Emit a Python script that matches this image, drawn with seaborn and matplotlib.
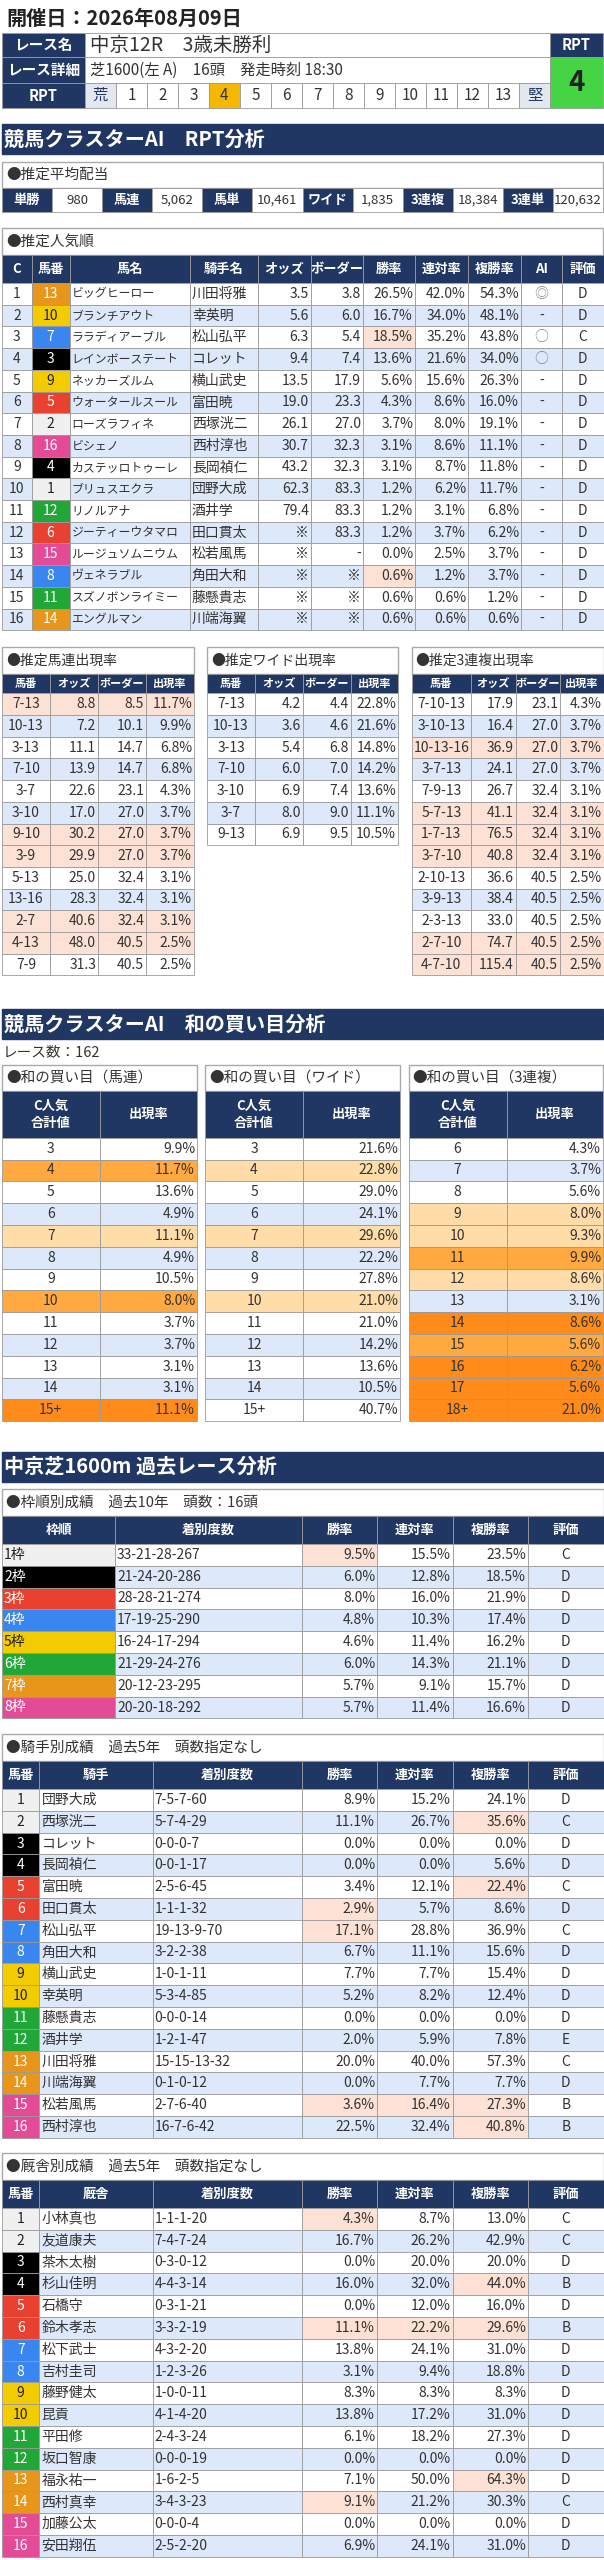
import matplotlib
matplotlib.use("Agg")
import matplotlib.pyplot as plt
import seaborn as sns
from matplotlib.patches import Rectangle

sns.set_theme(style="white")
plt.rcParams['font.family'] = ['Noto Sans CJK JP', 'DejaVu Sans']

# ---------------- data ----------------
race_date = "開催日：2026年08月09日"
race_name = "中京12R　3歳未勝利"
race_detail = "芝1600(左 A)　16頭　発走時刻 18:30"
rpt_scale = ["荒", "1", "2", "3", "4", "5", "6", "7", "8", "9", "10", "11", "12", "13", "堅"]
rpt_value = 4

payout_labels = ["単勝", "馬連", "馬単", "ワイド", "3連複", "3連単"]
payout_values = ["980", "5,062", "10,461", "1,835", "18,384", "120,632"]

pop_c = list(range(1, 17))
pop_num = [13, 10, 7, 3, 9, 5, 2, 16, 4, 1, 12, 6, 15, 8, 11, 14]
pop_name = ["ビッグヒーロー", "ブランチアウト", "ララディアーブル", "レインボーステート", "ネッカーズルム",
            "ウォータールスール", "ローズラフィネ", "ビシェノ", "カステッロトゥーレ", "ブリュスエクラ",
            "リノルアナ", "ジーティーウタマロ", "ルージュソムニウム", "ヴェネラブル", "スズノボンライミー", "エングルマン"]
pop_jockey = ["川田将雅", "幸英明", "松山弘平", "コレット", "横山武史", "富田暁", "西塚洸二", "西村淳也",
              "長岡禎仁", "団野大成", "酒井学", "田口貫太", "松若風馬", "角田大和", "藤懸貴志", "川端海翼"]
pop_odds = ["3.5", "5.6", "6.3", "9.4", "13.5", "19.0", "26.1", "30.7", "43.2", "62.3", "79.4", "※", "※", "※", "※", "※"]
pop_border = ["3.8", "6.0", "5.4", "7.4", "17.9", "23.3", "27.0", "32.3", "32.3", "83.3", "83.3", "83.3", "-", "※", "※", "※"]
pop_win = [26.5, 16.7, 18.5, 13.6, 5.6, 4.3, 3.7, 3.1, 3.1, 1.2, 1.2, 1.2, 0.0, 0.6, 0.6, 0.6]
pop_ren = [42.0, 34.0, 35.2, 21.6, 15.6, 8.6, 8.0, 8.6, 8.7, 6.2, 3.1, 3.7, 2.5, 1.2, 0.6, 0.6]
pop_fuku = [54.3, 48.1, 43.8, 34.0, 26.3, 16.0, 19.1, 11.1, 11.8, 11.7, 6.8, 6.2, 3.7, 3.7, 1.2, 0.6]
pop_ai = ["◎", "-", "○", "○"] + ["-"] * 12
pop_eval = ["D", "D", "C"] + ["D"] * 13

uren_kumi = ["7-13", "10-13", "3-13", "7-10", "3-7", "3-10", "9-10", "3-9", "5-13", "13-16", "2-7", "4-13", "7-9"]
uren_odds = [8.8, 7.2, 11.1, 13.9, 22.6, 17.0, 30.2, 29.9, 25.0, 28.3, 40.6, 48.0, 31.3]
uren_border = [8.5, 10.1, 14.7, 14.7, 23.1, 27.0, 27.0, 27.0, 32.4, 32.4, 32.4, 40.5, 40.5]
uren_rate = [11.7, 9.9, 6.8, 6.8, 4.3, 3.7, 3.7, 3.7, 3.1, 3.1, 3.1, 2.5, 2.5]
uren_hl = [1, 0, 0, 0, 0, 0, 1, 1, 0, 0, 1, 1, 0]

wide_kumi = ["7-13", "10-13", "3-13", "7-10", "3-10", "3-7", "9-13"]
wide_odds = [4.2, 3.6, 5.4, 6.0, 6.9, 8.0, 6.9]
wide_border = [4.4, 4.6, 6.8, 7.0, 7.4, 9.0, 9.5]
wide_rate = [22.8, 21.6, 14.8, 14.2, 13.6, 11.1, 10.5]
wide_hl = [0] * 7

trio_kumi = ["7-10-13", "3-10-13", "10-13-16", "3-7-13", "7-9-13", "5-7-13", "1-7-13", "3-7-10",
             "2-10-13", "3-9-13", "2-3-13", "2-7-10", "4-7-10"]
trio_odds = [17.9, 16.4, 36.9, 24.1, 26.7, 41.1, 76.5, 40.8, 36.6, 38.4, 33.0, 74.7, 115.4]
trio_border = [23.1, 27.0, 27.0, 27.0, 32.4, 32.4, 32.4, 32.4, 40.5, 40.5, 40.5, 40.5, 40.5]
trio_rate = [4.3, 3.7, 3.7, 3.7, 3.1, 3.1, 3.1, 3.1, 2.5, 2.5, 2.5, 2.5, 2.5]
trio_hl = [0, 0, 1, 0, 0, 1, 1, 1, 0, 0, 0, 1, 1]

num_races = 162
wa_uren_sum = ["3", "4", "5", "6", "7", "8", "9", "10", "11", "12", "13", "14", "15+"]
wa_uren_rate = [9.9, 11.7, 13.6, 4.9, 11.1, 4.9, 10.5, 8.0, 3.7, 3.7, 3.1, 3.1, 11.1]
wa_uren_lvl = [0, 2, 0, 0, 1, 0, 0, 2, 0, 0, 0, 0, 3]
wa_wide_sum = ["3", "4", "5", "6", "7", "8", "9", "10", "11", "12", "13", "14", "15+"]
wa_wide_rate = [21.6, 22.8, 29.0, 24.1, 29.6, 22.2, 27.8, 21.0, 21.0, 14.2, 13.6, 10.5, 40.7]
wa_wide_lvl = [0, 1, 0, 0, 1, 0, 0, 1, 0, 0, 0, 0, 0]
wa_trio_sum = ["6", "7", "8", "9", "10", "11", "12", "13", "14", "15", "16", "17", "18+"]
wa_trio_rate = [4.3, 3.7, 5.6, 8.0, 9.3, 9.9, 8.6, 3.1, 8.6, 5.6, 6.2, 5.6, 21.0]
wa_trio_lvl = [0, 0, 0, 1, 1, 2, 1, 0, 3, 2, 3, 3, 3]

waku_rec = ["33-21-28-267", "21-24-20-286", "28-28-21-274", "17-19-25-290",
            "16-24-17-294", "21-29-24-276", "20-12-23-295", "20-20-18-292"]
waku_win = [9.5, 6.0, 8.0, 4.8, 4.6, 6.0, 5.7, 5.7]
waku_ren = [15.5, 12.8, 16.0, 10.3, 11.4, 14.3, 9.1, 11.4]
waku_fuku = [23.5, 18.5, 21.9, 17.4, 16.2, 21.1, 15.7, 16.6]
waku_eval = ["C", "D", "D", "D", "D", "D", "D", "D"]
waku_hl = [(0, 0)]

jk_name = ["団野大成", "西塚洸二", "コレット", "長岡禎仁", "富田暁", "田口貫太", "松山弘平", "角田大和",
           "横山武史", "幸英明", "藤懸貴志", "酒井学", "川田将雅", "川端海翼", "松若風馬", "西村淳也"]
jk_rec = ["7-5-7-60", "5-7-4-29", "0-0-0-7", "0-0-1-17", "2-5-6-45", "1-1-1-32", "19-13-9-70", "3-2-2-38",
          "1-0-1-11", "5-3-4-85", "0-0-0-14", "1-2-1-47", "15-15-13-32", "0-1-0-12", "2-7-6-40", "16-7-6-42"]
jk_win = [8.9, 11.1, 0.0, 0.0, 3.4, 2.9, 17.1, 6.7, 7.7, 5.2, 0.0, 2.0, 20.0, 0.0, 3.6, 22.5]
jk_ren = [15.2, 26.7, 0.0, 0.0, 12.1, 5.7, 28.8, 11.1, 7.7, 8.2, 0.0, 5.9, 40.0, 7.7, 16.4, 32.4]
jk_fuku = [24.1, 35.6, 0.0, 5.6, 22.4, 8.6, 36.9, 15.6, 15.4, 12.4, 0.0, 7.8, 57.3, 7.7, 27.3, 40.8]
jk_eval = ["D", "C", "D", "D", "C", "D", "C", "D", "D", "D", "D", "E", "C", "D", "B", "B"]
jk_hl = [(1, 2), (4, 2), (5, 0), (6, 0), (14, 0), (14, 1), (14, 2), (15, 2)]

tr_name = ["小林真也", "友道康夫", "茶木太樹", "杉山佳明", "石橋守", "鈴木孝志", "松下武士", "吉村圭司",
           "藤野健太", "昆貢", "平田修", "坂口智康", "福永祐一", "西村真幸", "加藤公太", "安田翔伍"]
tr_rec = ["1-1-1-20", "7-4-7-24", "0-3-0-12", "4-4-3-14", "0-3-1-21", "3-3-2-19", "4-3-2-20", "1-2-3-26",
          "1-0-0-11", "4-1-4-20", "2-4-3-24", "0-0-0-19", "1-6-2-5", "3-4-3-23", "0-0-0-4", "2-5-2-20"]
tr_win = [4.3, 16.7, 0.0, 16.0, 0.0, 11.1, 13.8, 3.1, 8.3, 13.8, 6.1, 0.0, 7.1, 9.1, 0.0, 6.9]
tr_ren = [8.7, 26.2, 20.0, 32.0, 12.0, 22.2, 24.1, 9.4, 8.3, 17.2, 18.2, 0.0, 50.0, 21.2, 0.0, 24.1]
tr_fuku = [13.0, 42.9, 20.0, 44.0, 16.0, 29.6, 31.0, 18.8, 8.3, 31.0, 27.3, 0.0, 64.3, 30.3, 0.0, 31.0]
tr_eval = ["C", "C", "D", "B", "D", "B", "D", "D", "D", "D", "D", "D", "D", "C", "D", "D"]
tr_hl = [(0, 0), (3, 2), (5, 0), (5, 1), (5, 2), (12, 2), (13, 0)]

# ---------------- styles ----------------
NAVY = "#213763"
BLUE = "#DDE8FA"
SALMON = "#FCE1D4"
LINE = "#9A9A9A"
FRAME_BG = {1: "#F0F0F0", 2: "#000000", 3: "#E8412F", 4: "#3A86F0",
            5: "#F2CC00", 6: "#21A638", 7: "#E8951C", 8: "#E34B96"}
FRAME_FG = {1: "#222222", 2: "white", 3: "white", 4: "white",
            5: "#222222", 6: "white", 7: "white", 8: "white"}
WA_BG = {0: None, 1: "#FFDCA8", 2: "#FFA940", 3: "#FF8C1A"}

fig = plt.figure(figsize=(6.04, 25.6), dpi=100)
ax = fig.add_axes([0, 0, 1, 1])
ax.set_xlim(0, 604)
ax.set_ylim(2560, 0)
ax.axis("off")


def frame_of(n):
    return (n + 1) // 2


def cell(x0, x1, y0, y1, text="", fc="white", ha="center", color="#333333",
         size=9.5, weight="normal", lw=0.6, ec=LINE):
    ax.add_patch(Rectangle((x0, y0), x1 - x0, y1 - y0, facecolor=fc, edgecolor=ec, lw=lw))
    if text != "":
        if ha == "left":
            tx = x0 + 2
        elif ha == "right":
            tx = x1 - 2
        else:
            tx = (x0 + x1) / 2
        ax.text(tx, (y0 + y1) / 2, text, ha=ha, va="center", color=color,
                fontsize=size, fontweight=weight, linespacing=1.3)


def section(y0, y1, text):
    ax.add_patch(Rectangle((2, y0), 601, y1 - y0, facecolor=NAVY, edgecolor=NAVY))
    ax.text(4, (y0 + y1) / 2, text, ha="left", va="center", color="white",
            fontsize=14.5, fontweight="bold")


def box_title(x0, x1, y0, y1, text, size=10.5):
    cell(x0, x1, y0, y1, "", ec="#AAAAAA", lw=1.0)
    ax.text(x0 + 4, (y0 + y1) / 2, text, ha="left", va="center", color="#333333", fontsize=size)


def row_bg(i):
    return "white" if i % 2 == 0 else BLUE


def pct(v):
    return f"{v:.1f}%"


# ---------------- header ----------------
ax.text(6, 18, race_date, ha="left", va="center", fontsize=14.5, fontweight="bold", color="#222222")
hy = [33.3, 57.3, 83, 108.3]
for i, lab in enumerate(["レース名", "レース詳細", "RPT"]):
    cell(2, 85, hy[i], hy[i + 1], lab, fc=NAVY, color="white", weight="bold", size=10.5)
cell(85, 550, hy[0], hy[1], "")
ax.text(90, (hy[0] + hy[1]) / 2, race_name, ha="left", va="center", fontsize=14, color="#333333")
cell(85, 550, hy[1], hy[2], "")
ax.text(90, (hy[1] + hy[2]) / 2, race_detail, ha="left", va="center", fontsize=11, color="#333333")
cw = (550 - 85) / len(rpt_scale)
for i, s in enumerate(rpt_scale):
    if s == str(rpt_value):
        fc = "#F5B800"
    elif i in (0, len(rpt_scale) - 1):
        fc = "#E3E8F0"
    else:
        fc = "white"
    cell(85 + i * cw, 85 + (i + 1) * cw, hy[2], hy[3], s, fc=fc, size=11,
         color=NAVY if i in (0, len(rpt_scale) - 1) else "#333333")
cell(550, 603, hy[0], hy[1], "RPT", fc=NAVY, color="white", weight="bold", size=10.5)
cell(550, 603, hy[1], hy[3], str(rpt_value), fc="#44D444", color="#222222", weight="bold", size=20)

# ---------------- RPT analysis ----------------
section(124, 154, "競馬クラスターAI　RPT分析")
box_title(2, 603, 161.7, 188.3, "●推定平均配当")
pw = 601 / 12
for i, (lab, val) in enumerate(zip(payout_labels, payout_values)):
    x = 2 + 2 * i * pw
    cell(x, x + pw, 188.3, 212, lab, fc=NAVY, color="white", weight="bold", size=9.5)
    cell(x + pw, x + 2 * pw, 188.3, 212, val, size=9.5)

box_title(2, 603, 227.7, 255, "●推定人気順")
pcols = [2, 31.7, 69.5, 190, 258, 311, 363, 415, 468, 521, 562, 603.5]
pheads = ["C", "馬番", "馬名", "騎手名", "オッズ", "ボーダー", "勝率", "連対率", "複勝率", "AI", "評価"]
for j, h in enumerate(pheads):
    cell(pcols[j], pcols[j + 1], 255, 283, h, fc=NAVY, color="white", weight="bold", size=9.5)
rh = 21.7
pop_hl = {(2, 6), (13, 6)}
for i in range(len(pop_c)):
    y0 = 283 + i * rh
    y1 = y0 + rh
    bg = row_bg(i)
    fr = frame_of(pop_num[i])
    vals = [str(pop_c[i]), str(pop_num[i]), pop_name[i], pop_jockey[i], pop_odds[i], pop_border[i],
            pct(pop_win[i]), pct(pop_ren[i]), pct(pop_fuku[i]), pop_ai[i], pop_eval[i]]
    aligns = ["center", "center", "left", "left", "right", "right", "right", "right", "right", "center", "center"]
    for j, v in enumerate(vals):
        fc = bg
        col = "#333333"
        if j == 1:
            fc = FRAME_BG[fr]
            col = FRAME_FG[fr]
        elif (i, j) in pop_hl:
            fc = SALMON
        if j == 9 and v != "-":
            col = "#888888"
        size = 8.6 if j == 2 else 10
        cell(pcols[j], pcols[j + 1], y0, y1, v, fc=fc, ha=aligns[j], color=col, size=size)


def small_table(x_cols, title, kumi, odds, border, rate, hl, top=646.7):
    box_title(x_cols[0], x_cols[-1], top, 674, title, size=10)
    for j, h in enumerate(["馬番", "オッズ", "ボーダー", "出現率"]):
        cell(x_cols[j], x_cols[j + 1], 674, 693.3, h, fc=NAVY, color="white", weight="bold", size=8)
    for i in range(len(kumi)):
        y0 = 693.3 + i * rh
        fc = SALMON if hl[i] else row_bg(i)
        vals = [kumi[i], f"{odds[i]:.1f}", f"{border[i]:.1f}", pct(rate[i])]
        for j, v in enumerate(vals):
            cell(x_cols[j], x_cols[j + 1], y0, y0 + rh, v, fc=fc,
                 ha="center" if j == 0 else "right", size=10)


small_table([2, 50, 98, 146, 194], "●推定馬連出現率", uren_kumi, uren_odds, uren_border, uren_rate, uren_hl)
small_table([207, 255, 303, 351, 398], "●推定ワイド出現率", wide_kumi, wide_odds, wide_border, wide_rate, wide_hl)
small_table([411.5, 471, 515.5, 560, 603.5], "●推定3連複出現率", trio_kumi, trio_odds, trio_border, trio_rate, trio_hl)

# ---------------- wa analysis ----------------
section(1009, 1039, "競馬クラスターAI　和の買い目分析")
ax.text(3, 1052, f"レース数：{num_races}", ha="left", va="center", fontsize=10.5, color="#333333")


def wa_table(x0, xm, x1, title, sums, rates, lvls):
    box_title(x0, x1, 1065, 1091, title)
    cell(x0, xm, 1091, 1137.7, "C人気\n合計値", fc=NAVY, color="white", weight="bold", size=9.5)
    cell(xm, x1, 1091, 1137.7, "出現率", fc=NAVY, color="white", weight="bold", size=9.5)
    wh = 21.8
    for i in range(len(sums)):
        y0 = 1137.7 + i * wh
        fc = WA_BG[lvls[i]] or row_bg(i)
        cell(x0, xm, y0, y0 + wh, sums[i], fc=fc, size=10)
        cell(xm, x1, y0, y0 + wh, pct(rates[i]), fc=fc, ha="right", size=10)


wa_table(2, 99.6, 197, "●和の買い目（馬連）", wa_uren_sum, wa_uren_rate, wa_uren_lvl)
wa_table(205, 303, 400, "●和の買い目（ワイド）", wa_wide_sum, wa_wide_rate, wa_wide_lvl)
wa_table(408.5, 506.6, 603, "●和の買い目（3連複）", wa_trio_sum, wa_trio_rate, wa_trio_lvl)

# ---------------- past race analysis ----------------
section(1451.7, 1481.7, "中京芝1600m 過去レース分析")

box_title(2, 603.5, 1489, 1516, "●枠順別成績　過去10年　頭数：16頭")
wcols = [2, 115, 302, 377, 452.5, 528, 603.5]
for j, h in enumerate(["枠順", "着別度数", "勝率", "連対率", "複勝率", "評価"]):
    cell(wcols[j], wcols[j + 1], 1516, 1544, h, fc=NAVY, color="white", weight="bold", size=9.5)
for i in range(8):
    y0 = 1544 + i * 21.8
    bg = row_bg(i)
    vals = [f"{i + 1}枠", waku_rec[i], pct(waku_win[i]), pct(waku_ren[i]), pct(waku_fuku[i]), waku_eval[i]]
    aligns = ["left", "left", "right", "right", "right", "center"]
    for j, v in enumerate(vals):
        fc, col = bg, "#333333"
        if j == 0:
            fc, col = FRAME_BG[i + 1], FRAME_FG[i + 1]
        elif (i, j - 2) in waku_hl:
            fc = SALMON
        cell(wcols[j], wcols[j + 1], y0, y0 + 21.8, v, fc=fc, ha=aligns[j], color=col, size=10)


def person_table(top, title, head2, names, recs, wins, rens, fukus, evals, hl):
    t1, t2 = top + 27, top + 55
    box_title(2, 603.5, top, t1, title)
    cols = [2, 39.4, 152.5, 302, 377, 452.5, 528, 603.5]
    for j, h in enumerate(["馬番", head2, "着別度数", "勝率", "連対率", "複勝率", "評価"]):
        cell(cols[j], cols[j + 1], t1, t2, h, fc=NAVY, color="white", weight="bold", size=9.5)
    for i in range(len(names)):
        y0 = t2 + i * 21.8
        bg = row_bg(i)
        fr = frame_of(i + 1)
        vals = [str(i + 1), names[i], recs[i], pct(wins[i]), pct(rens[i]), pct(fukus[i]), evals[i]]
        aligns = ["center", "left", "left", "right", "right", "right", "center"]
        for j, v in enumerate(vals):
            fc, col = bg, "#333333"
            if j == 0:
                fc, col = FRAME_BG[fr], FRAME_FG[fr]
            elif (i, j - 3) in hl:
                fc = SALMON
            cell(cols[j], cols[j + 1], y0, y0 + 21.8, v, fc=fc, ha=aligns[j], color=col, size=10)


person_table(1734, "●騎手別成績　過去5年　頭数指定なし", "騎手",
             jk_name, jk_rec, jk_win, jk_ren, jk_fuku, jk_eval, jk_hl)
person_table(2153, "●厩舎別成績　過去5年　頭数指定なし", "厩舎",
             tr_name, tr_rec, tr_win, tr_ren, tr_fuku, tr_eval, tr_hl)

fig.savefig("out.png", dpi=100)
